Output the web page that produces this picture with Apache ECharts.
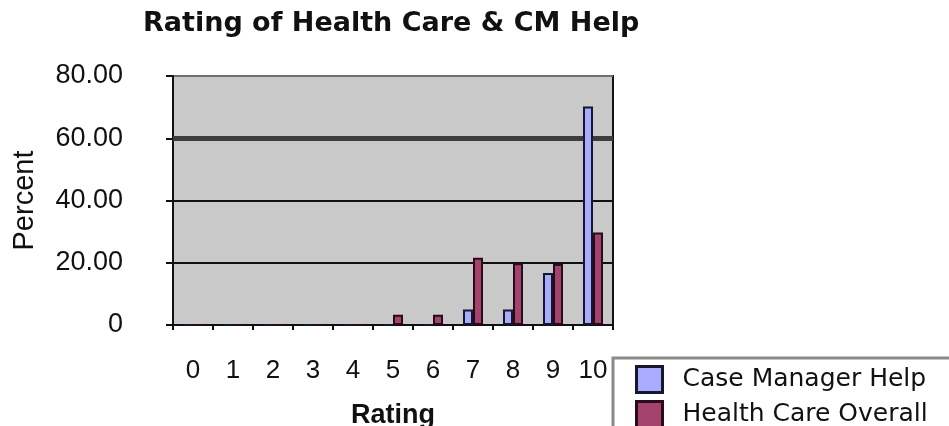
<!DOCTYPE html>
<html>
<head>
<meta charset="utf-8">
<script src="https://cdn.jsdelivr.net/npm/echarts@6/dist/echarts.min.js"></script>
<style>
  html, body { margin: 0; padding: 0; background: #fff; }
  #chart { width: 949px; height: 426px; }
</style>
</head>
<body>
<div id="chart"></div>
<script>
// ratings on the x axis
const ratings = ['0', '1', '2', '3', '4', '5', '6', '7', '8', '9', '10']
// percent per rating
const caseManagerHelp = [0, 0, 0, 0, 0, 0, 0, 5.0, 5.0, 16.7, 70.2]
const healthCareOverall = [0, 0, 0, 0, 0, 3.3, 3.3, 21.6, 19.8, 19.6, 29.7]
// y tick labels
const yTicks = [0, 20, 40, 60, 80]
const yTickLabels = ['0', '20.00', '40.00', '60.00', '80.00']

const chart = echarts.init(document.getElementById('chart'))

const option = {
  animation: false,
  title: {
    text: 'Rating of Health Care & CM Help',
    left: 143,
    top: 10,
    padding: 0,
    textStyle: {
      fontFamily: 'DejaVu Sans',
      fontWeight: 'bold',
      fontSize: 27,
      color: '#111'
    }
  },
  legend: {
    orient: 'vertical',
    left: 613,
    top: 358,
    height: 100,
    padding: [7, 40, 20, 22],
    icon: 'rect',
    itemWidth: 26,
    itemHeight: 26,
    itemGap: 6,
    borderColor: '#8a8a8a',
    borderWidth: 3,
    itemStyle: { borderWidth: 3 },
    textStyle: {
      fontFamily: 'DejaVu Sans',
      fontSize: 25,
      color: '#111',
      padding: [0, 0, 0, 15]
    },
    data: ['Case Manager Help', 'Health Care Overall']
  },
  grid: {
    left: 173,
    right: 336,
    top: 76,
    bottom: 101,
    outerBoundsMode: 'none',
    show: true,
    backgroundColor: '#c9c9c9',
    borderColor: '#111',
    borderWidth: 2
  },
  xAxis: {
    type: 'category',
    data: ratings,
    name: 'Rating',
    nameLocation: 'middle',
    nameGap: 77,
    nameTextStyle: {
      fontFamily: 'Liberation Sans',
      fontWeight: 'bold',
      fontSize: 27,
      color: '#111'
    },
    axisLine: { lineStyle: { color: '#111', width: 2 } },
    axisTick: { show: true, length: 5, lineStyle: { color: '#111', width: 2 } },
    axisLabel: {
      margin: 33,
      fontFamily: 'Liberation Sans',
      fontSize: 26,
      color: '#111'
    }
  },
  yAxis: {
    type: 'value',
    min: 0,
    max: 80,
    interval: 20,
    name: 'Percent',
    nameLocation: 'middle',
    nameGap: 134,
    nameTextStyle: {
      fontFamily: 'Liberation Sans',
      fontSize: 29,
      color: '#111'
    },
    axisLine: { show: true, lineStyle: { color: '#111', width: 2 } },
    axisTick: { show: true, length: 7, lineStyle: { color: '#111', width: 2 } },
    splitLine: {
      show: true,
      lineStyle: { color: ['#111', '#111', '#111', '#3c3c3c', '#707070'], width: 2 }
    },
    axisLabel: {
      margin: 50,
      fontFamily: 'Liberation Sans',
      fontSize: 27,
      color: '#111',
      formatter: v => yTickLabels[yTicks.indexOf(v)]
    }
  },
  series: [
    {
      name: 'Case Manager Help',
      type: 'bar',
      data: caseManagerHelp,
      barWidth: 10,
      barGap: '0%',
      itemStyle: { color: '#a9abff', borderColor: '#15172f', borderWidth: 2 },
      markLine: {
        silent: true,
        z: 1,
        symbol: 'none',
        label: { show: false },
        lineStyle: { color: '#3c3c3c', width: 5, type: 'solid' },
        data: [{ yAxis: 60 }]
      }
    },
    {
      name: 'Health Care Overall',
      type: 'bar',
      data: healthCareOverall,
      barWidth: 10,
      itemStyle: { color: '#a5436f', borderColor: '#2a0b19', borderWidth: 2 }
    }
  ]
}

chart.setOption(option)
</script>
</body>
</html>
